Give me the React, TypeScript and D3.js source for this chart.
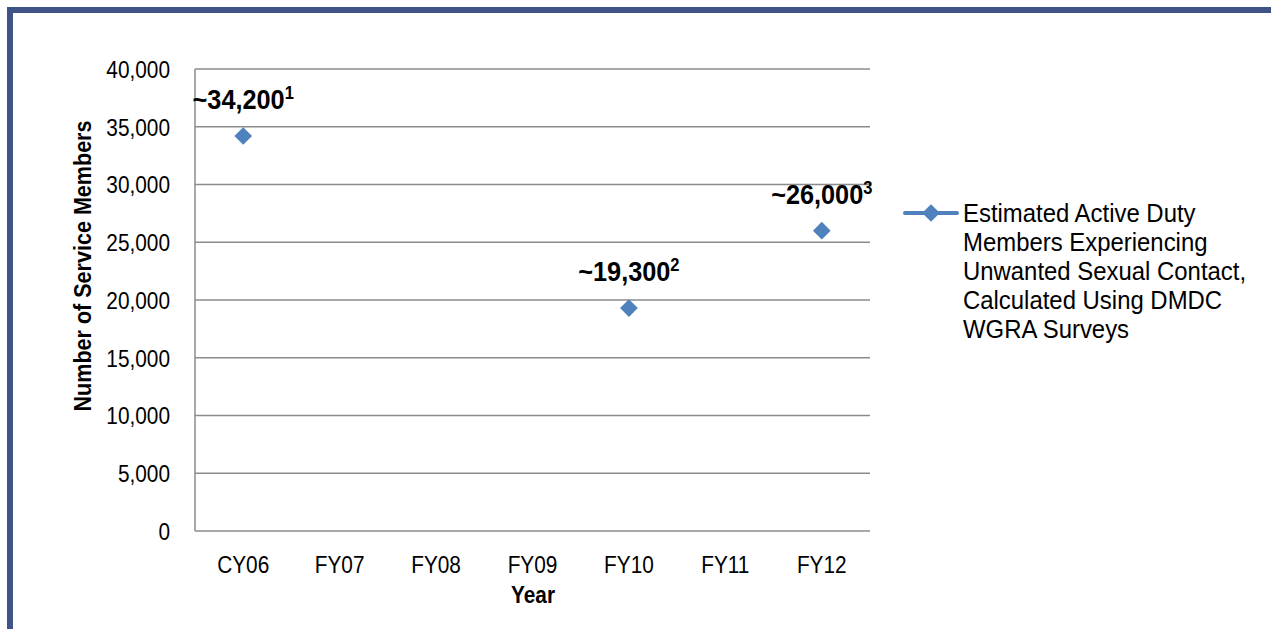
import React from "react";
import * as d3 from "d3";

// valores
const categorias = ["CY06", "FY07", "FY08", "FY09", "FY10", "FY11", "FY12"];
const valores: (number | null)[] = [34200, null, null, null, 19300, null, 26000];
const etiquetas = ["~34,200", "", "", "", "~19,300", "", "~26,000"];
const notas = ["1", "", "", "", "2", "", "3"];
const ticksY = [0, 5000, 10000, 15000, 20000, 25000, 30000, 35000, 40000];
const leyenda = [
  "Estimated Active Duty",
  "Members Experiencing",
  "Unwanted Sexual Contact,",
  "Calculated Using DMDC",
  "WGRA Surveys",
];

const W = 1271;
const H = 629;
const FONT = "'Liberation Sans', Arial, sans-serif";
const AZUL = "#4F81BD";
const MARCO = "#3F5386";
const GRIS = "#8C8C8C";

// texto "estrecho": Liberation Sans comprimido en horizontal
const Txt = ({ x, y, sx = 0.85, rot = 0, children, ...rest }: any) => (
  <text transform={`translate(${x},${y}) rotate(${rot}) scale(${sx},1)`} fill="#000" {...rest}>
    {children}
  </text>
);

const App = () => {
  const left = 195;
  const right = 870;
  const top = 69;
  const bottom = 531;

  const x = d3.scaleBand().domain(categorias).range([left, right]);
  const y = d3.scaleLinear().domain([0, 40000]).range([bottom, top]);
  const fmt = d3.format(",");
  const cx = (c: string) => (x(c) ?? 0) + x.bandwidth() / 2;

  const diamante = d3.symbol().type(d3.symbolDiamond2).size(200)() ?? "";

  const puntos = categorias
    .map((c, i) => ({ c, v: valores[i], lab: etiquetas[i], nota: notas[i] }))
    .filter((d) => d.v !== null) as { c: string; v: number; lab: string; nota: string }[];

  return (
    <svg
      width={W}
      height={H}
      style={{ position: "absolute", left: 0, top: 0, background: "#fff" }}
      fontFamily={FONT}
    >
      {/* marco */}
      <rect x={7} y={7} width={W - 7} height={6} fill={MARCO} />
      <rect x={7} y={7} width={6} height={H - 7} fill={MARCO} />

      {/* grid horizontal */}
      {ticksY.map((t) => (
        <line key={t} x1={left} x2={right} y1={y(t)} y2={y(t)} stroke={GRIS} strokeWidth={1.5} />
      ))}
      <line x1={left} x2={left} y1={top} y2={bottom} stroke={GRIS} strokeWidth={1.5} />

      {/* etiquetas eje Y */}
      {ticksY.map((t) => (
        <Txt key={t} x={170} y={y(t)} dy="0.36em" textAnchor="end" fontSize={24.5}>
          {fmt(t)}
        </Txt>
      ))}

      {/* etiquetas eje X */}
      {categorias.map((c) => (
        <Txt key={c} x={cx(c)} y={573} textAnchor="middle" fontSize={24.5}>
          {c}
        </Txt>
      ))}

      <Txt x={533} y={603} textAnchor="middle" fontSize={24.5} fontWeight="bold">
        Year
      </Txt>
      <Txt x={91} y={266} rot={-90} sx={0.88} textAnchor="middle" fontSize={24.5} fontWeight="bold">
        Number of Service Members
      </Txt>

      {/* puntos */}
      {puntos.map((d) => (
        <path key={d.c} d={diamante} transform={`translate(${cx(d.c)},${y(d.v)})`} fill={AZUL} />
      ))}

      {/* etiquetas de valor */}
      {puntos.map((d) => (
        <Txt
          key={d.c}
          x={cx(d.c)}
          y={y(d.v) - 27}
          sx={0.92}
          textAnchor="middle"
          fontSize={27.5}
          fontWeight="bold"
        >
          {d.lab}
          <tspan fontSize={18} dy={-10}>
            {d.nota}
          </tspan>
        </Txt>
      ))}

      {/* leyenda */}
      <line x1={905} x2={957} y1={213} y2={213} stroke={AZUL} strokeWidth={4} strokeLinecap="round" />
      <path d={diamante} transform="translate(931,213)" fill={AZUL} />
      {leyenda.map((l, i) => (
        <Txt key={i} x={963} y={222 + i * 29} sx={0.92} fontSize={26}>
          {l}
        </Txt>
      ))}
    </svg>
  );
};

export default App;
